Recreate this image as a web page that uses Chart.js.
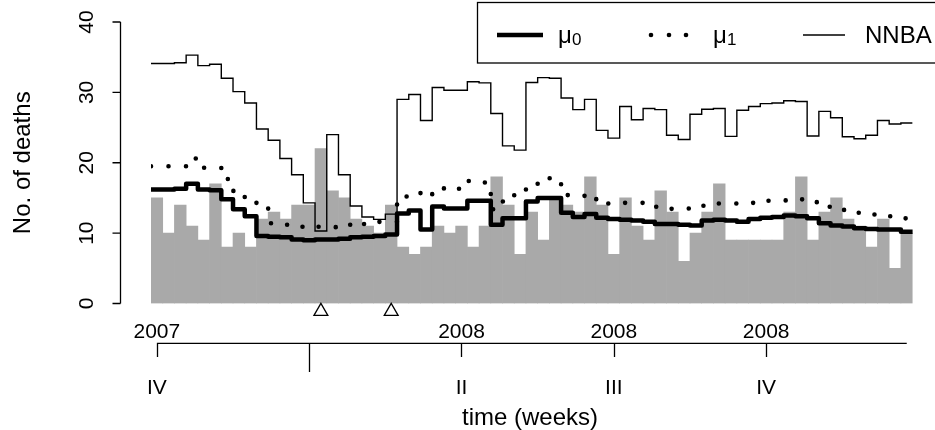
<!DOCTYPE html>
<html>
<head>
<meta charset="utf-8">
<script src="https://cdn.jsdelivr.net/npm/chart.js@4.4.0/dist/chart.umd.min.js"></script>
<style>
  html, body { margin: 0; padding: 0; background: #fff; }
  #wrap { width: 935px; height: 430px; }
</style>
</head>
<body>
<div id="wrap"><canvas id="chart" width="935" height="430"></canvas></div>
<script>
// Weekly death counts, 2007 Q4 .. 2008 Q4
const weeks = [1, 2, 3, 4, 5, 6, 7, 8, 9, 10, 11, 12, 13, 14, 15, 16, 17, 18, 19, 20,
    21, 22, 23, 24, 25, 26, 27, 28, 29, 30, 31, 32, 33, 34, 35, 36, 37, 38, 39, 40,
    41, 42, 43, 44, 45, 46, 47, 48, 49, 50, 51, 52, 53, 54, 55, 56, 57, 58, 59, 60,
    61, 62, 63, 64, 65];
const deaths = [15, 10, 14, 11, 9, 17, 8, 10, 8, 12, 13, 12, 14, 14, 22, 16, 15, 12, 11, 10,
    14, 8, 7, 8, 11, 10, 11, 8, 11, 18, 14, 7, 13, 9, 15, 14, 13, 18, 14, 7,
    15, 11, 9, 16, 13, 6, 10, 13, 17, 9, 9, 9, 9, 9, 13, 18, 9, 13, 15, 12,
    11, 8, 12, 5, 10];
const mu0 = [16.2, 16.2, 16.3, 17.0, 16.2, 16.1, 14.8, 13.4, 12.4, 9.6, 9.5, 9.4, 9.1, 9.0, 9.1, 9.1, 9.2, 9.4, 9.5, 9.6,
    9.8, 12.8, 13.2, 10.5, 13.8, 13.5, 13.5, 14.6, 14.6, 11.2, 12.1, 12.1, 14.5, 15.0, 15.0, 12.9, 12.3, 12.7, 12.2, 12.0,
    11.9, 11.8, 11.6, 11.3, 11.3, 11.2, 11.1, 11.8, 11.9, 11.8, 11.6, 12.0, 12.2, 12.3, 12.5, 12.4, 12.1, 11.4, 11.1, 10.95,
    10.7, 10.6, 10.5, 10.5, 10.2];
const mu1 = [19.5, 19.5, 19.5, 20.6, 19.3, 19.3, 17.7, 16.0, 15.0, 14.2, 11.4, 11.2, 10.9, 10.8, 10.9, 10.85, 10.8, 11.5, 11.3, 11.6,
    11.6, 15.2, 15.7, 15.2, 15.9, 16.5, 16.3, 17.4, 17.2, 13.4, 14.5, 16.0, 16.6, 17.8, 17.8, 15.4, 15.3, 14.65, 14.9, 14.2,
    14.3, 14.3, 14.2, 13.75, 13.45, 13.5, 13.55, 13.9, 14.2, 14.2, 14.2, 14.3, 14.6, 14.6, 14.65, 14.8, 14.4, 13.75, 13.3, 13.3,
    12.9, 12.65, 12.4, 12.4, 12.1];
const nnba = [34.1, 34.1, 34.2, 35.3, 33.8, 34.0, 32.0, 30.1, 28.5, 24.8, 23.2, 20.6, 18.3, 14.3, 10.3, 24.0, 18.3, 13.85, 12.3, 11.95,
    12.7, 29.0, 29.7, 26.0, 30.7, 30.3, 30.3, 31.5, 31.35, 27.0, 22.4, 21.8, 31.4, 32.1, 32.0, 29.2, 27.55, 29.0, 24.6, 23.5,
    28.0, 26.1, 27.7, 27.55, 23.9, 23.3, 26.9, 27.6, 27.7, 23.75, 27.45, 28.0, 28.4, 28.5, 28.8, 28.7, 23.8, 27.3, 26.4, 23.7,
    23.4, 23.9, 26.0, 25.5, 25.65];
const alarmWeeks = [15, 21];

// Time axis: quarter ticks with year / quarter labels
const tickWeeks = [1, 14, 27, 40, 53];
const yearLabels = ['2007', '', '2008', '2008', '2008'];
const quarterLabels = ['IV', '', 'II', 'III', 'IV'];
const yearStartTick = [false, true, false, false, false];
const yTicks = [0, 10, 20, 30, 40];

const FONT = '"Liberation Sans", Arial, Helvetica, sans-serif';

// step outline centred on each week (from week-0.5 to week+0.5)
function steps(vals) {
    const pts = [];
    vals.forEach((v, i) => {
        pts.push({ x: weeks[i] - 0.5, y: v });
        pts.push({ x: weeks[i] + 0.5, y: v });
    });
    return pts;
}

const axesPlugin = {
    id: 'rAxes',
    afterDraw(chart) {
        const c = chart.ctx;
        const xs = chart.scales.x, ys = chart.scales.y;
        c.save();
        c.strokeStyle = '#000';
        c.fillStyle = '#000';
        c.lineWidth = 1.3;

        // y axis
        const yAxisX = 120.5;
        c.beginPath();
        c.moveTo(yAxisX, ys.getPixelForValue(yTicks[0]));
        c.lineTo(yAxisX, ys.getPixelForValue(yTicks[yTicks.length - 1]));
        yTicks.forEach(t => {
            const py = ys.getPixelForValue(t);
            c.moveTo(yAxisX, py);
            c.lineTo(yAxisX - 8, py);
        });
        c.stroke();
        c.font = '21px ' + FONT;
        c.textAlign = 'center';
        c.textBaseline = 'alphabetic';
        yTicks.forEach(t => {
            const py = ys.getPixelForValue(t);
            c.save();
            c.translate(93, py);
            c.rotate(-Math.PI / 2);
            c.fillText(String(t), 0, 0);
            c.restore();
        });
        c.font = '24px ' + FONT;
        c.save();
        c.translate(30, (ys.top + ys.bottom) / 2);
        c.rotate(-Math.PI / 2);
        c.fillText('No. of deaths', 0, 0);
        c.restore();
        c.fillText('time (weeks)', 530, 425);

        // time axis
        const axisY = 343.3;
        c.beginPath();
        c.moveTo(xs.getPixelForValue(weeks[0]), axisY);
        c.lineTo(xs.getPixelForValue(weeks[weeks.length - 1]), axisY);
        tickWeeks.forEach((w, i) => {
            const px = Math.round(xs.getPixelForValue(w)) + 0.5;
            c.moveTo(px, axisY);
            c.lineTo(px, yearStartTick[i] ? 372 : 357);
        });
        c.stroke();
        c.font = '21px ' + FONT;
        tickWeeks.forEach((w, i) => {
            const px = xs.getPixelForValue(w);
            if (yearLabels[i]) c.fillText(yearLabels[i], px, 338);
            if (quarterLabels[i]) c.fillText(quarterLabels[i], px, 394);
        });

        // legend box (top right, runs off the plot edge)
        c.lineWidth = 1.3;
        c.strokeRect(477.5, 2.5, 480, 60.5);
        const ly = 35;
        c.lineWidth = 4.5;
        c.lineCap = 'butt';
        c.beginPath(); c.moveTo(497, ly); c.lineTo(543, ly); c.stroke();
        [651, 669, 686].forEach(dx => {
            c.beginPath(); c.arc(dx, ly, 2.3, 0, Math.PI * 2); c.fill();
        });
        c.lineWidth = 1.4;
        c.beginPath(); c.moveTo(803, ly); c.lineTo(845, ly); c.stroke();
        c.textAlign = 'left';
        c.font = '24px ' + FONT;
        c.fillText('\u03bc', 558, 43);
        c.fillText('\u03bc', 713, 43);
        c.fillText('NNBA', 865, 43);
        c.font = '17px ' + FONT;
        c.fillText('0', 572, 45);
        c.fillText('1', 727, 45);
        c.restore();
    }
};

const ctx = document.getElementById('chart').getContext('2d');
const chart = new Chart(ctx, {
    type: 'bar',
    data: {
        datasets: [
            {
                type: 'bar', label: 'deaths',
                data: weeks.map((w, i) => ({ x: w, y: deaths[i] })),
                backgroundColor: '#a9a9a9', borderWidth: 0,
                barPercentage: 1, categoryPercentage: 1, order: 4
            },
            {
                type: 'line', label: 'NNBA', data: steps(nnba),
                borderColor: '#000', borderWidth: 1.4, pointRadius: 0, tension: 0, order: 3
            },
            {
                type: 'line', label: 'mu0', data: steps(mu0),
                borderColor: '#000', borderWidth: 4.5, pointRadius: 0, tension: 0,
                borderJoinStyle: 'round', borderCapStyle: 'round', order: 2
            },
            {
                type: 'line', label: 'mu1', data: steps(mu1),
                borderColor: '#000', borderWidth: 4.6, pointRadius: 0, tension: 0,
                borderDash: [0, 17.5], borderCapStyle: 'round', order: 1
            },
            {
                type: 'scatter', label: 'alarm',
                data: alarmWeeks.map(w => ({ x: w, y: -1.12 })),
                pointStyle: 'triangle', pointRadius: 8, borderColor: '#000', borderWidth: 1.3,
                backgroundColor: 'rgba(0,0,0,0)', clip: false, order: 0
            }
        ]
    },
    options: {
        responsive: false,
        animation: false,
        devicePixelRatio: 1,
        layout: { padding: { left: 151, right: 22.4, top: 22, bottom: 126.5 } },
        scales: {
            x: { type: 'linear', min: 0.5, max: 65.5, offset: false, display: false },
            y: { min: 0, max: 40, display: false }
        },
        plugins: { legend: { display: false }, tooltip: { enabled: false } }
    },
    plugins: [axesPlugin]
});
</script>
</body>
</html>
